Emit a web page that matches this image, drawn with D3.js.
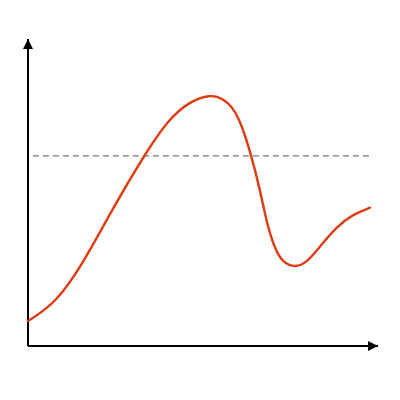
<!DOCTYPE html>
<html>
<head>
<meta charset="utf-8">
<script src="https://cdn.jsdelivr.net/npm/d3@7"></script>
<style>
  html, body { margin: 0; padding: 0; background: #fff; }
</style>
</head>
<body>
<div id="chart"></div>
<script>
// curve samples (x and y in axis units 0..100)
const xValues = [0, 8, 16, 24, 32.9, 40, 46.3, 52, 55.8, 58.7, 61.1, 63.9, 66.3, 68.2, 70.6, 72.9, 76.3, 79.6, 83.4, 88.2, 92.9, 97.7];
const yValues = [8.2, 14, 27.5, 44.5, 61.8, 74, 80, 82.2, 80.9, 77.7, 72.2, 61.9, 51, 40.2, 31.4, 27.2, 25.6, 27.2, 32.5, 39, 43.1, 45.2];
// dashed reference level and its extent
const refLevel = [62.1];
const refExtent = [1.4, 98.3];

const width = 400;
const height = 400;
const margin = { top: 40, right: 22, bottom: 54, left: 28 };

const svg = d3.select('#chart').append('svg')
  .attr('width', width)
  .attr('height', height);

const x = d3.scaleLinear()
  .domain([0, 100])
  .range([margin.left, width - margin.right]);

const y = d3.scaleLinear()
  .domain([0, 100])
  .range([height - margin.bottom, margin.top]);

// arrow heads
const defs = svg.append('defs');
defs.append('marker')
  .attr('id', 'arrow')
  .attr('viewBox', '0 0 10 10')
  .attr('refX', 10)
  .attr('refY', 5)
  .attr('markerWidth', 5.5)
  .attr('markerHeight', 5)
  .attr('markerUnits', 'strokeWidth')
  .attr('orient', 'auto')
  .append('path')
    .attr('d', 'M0,0L10,5L0,10Z')
    .attr('fill', '#000');

// axes
const x0 = x(0), y0 = y(0);
svg.append('line')
  .attr('x1', x0).attr('y1', y0)
  .attr('x2', x(100)).attr('y2', y0)
  .attr('stroke', '#000')
  .attr('stroke-width', 2)
  .attr('marker-end', 'url(#arrow)');

svg.append('line')
  .attr('x1', x0).attr('y1', y0)
  .attr('x2', x0).attr('y2', y(100) - 1)
  .attr('stroke', '#000')
  .attr('stroke-width', 2)
  .attr('marker-end', 'url(#arrow)');

// dashed reference line
svg.selectAll('.ref')
  .data(refLevel)
  .enter().append('line')
    .attr('class', 'ref')
    .attr('x1', x(refExtent[0]))
    .attr('x2', x(refExtent[1]))
    .attr('y1', d => y(d))
    .attr('y2', d => y(d))
    .attr('stroke', '#777')
    .attr('stroke-width', 1.3)
    .attr('stroke-dasharray', '6,4');

// the curve, smoothed through the samples
const points = xValues.map((v, i) => [v, yValues[i]]);
const line = d3.line()
  .x(d => x(d[0]))
  .y(d => y(d[1]))
  .curve(d3.curveBasis);

svg.append('path')
  .datum(points)
  .attr('fill', 'none')
  .attr('stroke', '#dd3c14')
  .attr('stroke-width', 2.4)
  .attr('stroke-linecap', 'round')
  .attr('d', line);
</script>
</body>
</html>
